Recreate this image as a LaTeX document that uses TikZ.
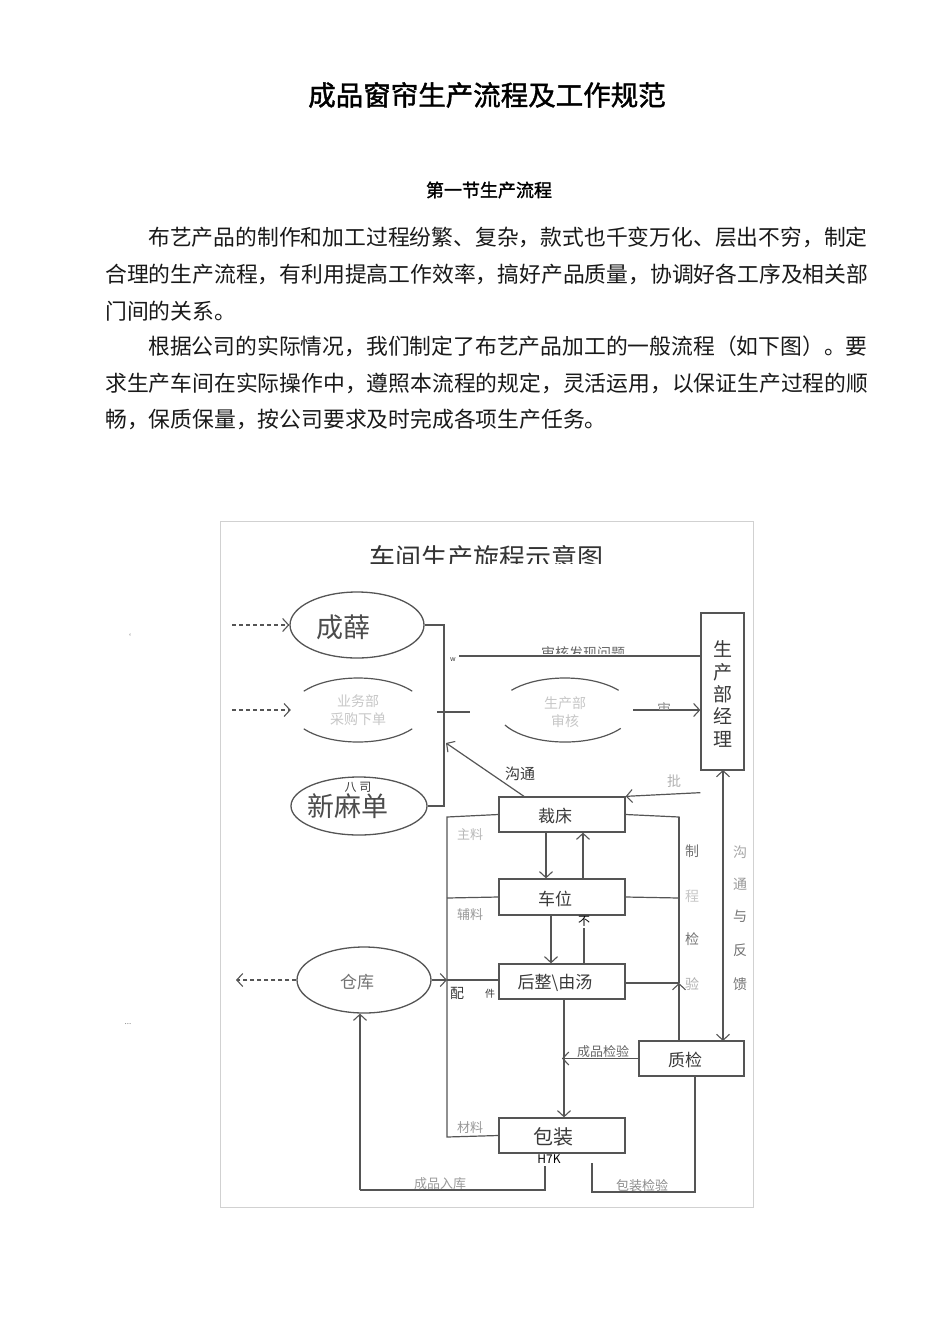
\documentclass[tikz,border=0pt]{standalone}
\usepackage{fontspec}
\setmainfont{Noto Sans CJK SC}
\newfontfamily\cjkbold{Noto Sans CJK SC}[FakeBold=1.5]
\usetikzlibrary{arrows.meta,shapes.geometric}
\definecolor{lc}{HTML}{555555}
\definecolor{tc}{HTML}{3A3A3A}
\tikzset{
  ln/.style={draw=lc,line width=1.2pt},
  arr/.style={ln,-{Straight Barb[length=6pt,width=13pt,line width=1.1pt]}},
  darr/.style={ln,dashed,dash pattern=on 4pt off 3pt,-{Straight Barb[length=6pt,width=13pt,line width=1.1pt]}},
  box/.style={draw=lc,line width=1.3pt,rectangle,inner sep=0pt},
  ell/.style={draw=lc,line width=1.3pt,ellipse,inner sep=0pt},
  ghost/.style={ellipse,inner sep=0pt},
  para/.style={anchor=west,inner sep=0pt,font=\fontsize{21.8}{21.8}\selectfont,text=black!90},
  lab/.style={inner sep=0pt,text=tc},
  faint/.style={inner sep=0pt,text=black!28},
}
\begin{document}
\begin{tikzpicture}[x=1pt,y=-1pt]
\useasboundingbox (0,0) rectangle (950,1318);
\fill[white] (0,0) rectangle (950,1318);

% ---------- text part ----------
\node[inner sep=0pt,font=\cjkbold\fontsize{27.5}{27.5}\selectfont] (title) at (487,95) {成品窗帘生产流程及工作规范};
\node[inner sep=0pt,font=\cjkbold\fontsize{18}{18}\selectfont] (sec) at (489,190) {第一节生产流程};
\node[para] (p1) at (148,237) {布艺产品的制作和加工过程纷繁、复杂，款式也千变万化、层出不穷，制定};
\node[para] (p2) at (105,274) {合理的生产流程，有利用提高工作效率，搞好产品质量，协调好各工序及相关部};
\node[para] (p3) at (105,311) {门间的关系。};
\node[para] (p4) at (148,346) {根据公司的实际情况，我们制定了布艺产品加工的一般流程（如下图）。要};
\node[para] (p5) at (105,383) {求生产车间在实际操作中，遵照本流程的规定，灵活运用，以保证生产过程的顺};
\node[para] (p6) at (105,419) {畅，保质保量，按公司要求及时完成各项生产任务。};

\node[inner sep=0pt,text=black!50,font=\fontsize{8}{8}\selectfont] (m1) at (127,637) {`};
\node[inner sep=0pt,text=black!50,font=\fontsize{8}{8}\selectfont] (m2) at (128,1024) {...};

% ---------- diagram frame ----------
\draw[black!18,line width=1pt] (220,521) rectangle (753,1207);
\begin{scope}
  \clip (222,530) rectangle (751,563);
  \node[inner sep=0pt,text=black!80,font=\fontsize{26}{26}\selectfont] (dtitle) at (486,558) {车间生产旋程示意图};
\end{scope}

% ---------- nodes ----------
\node[ell,minimum width=134pt,minimum height=66pt] (e1) at (357,625) {};
\node[lab,font=\fontsize{27}{27}\selectfont,text=black!70] (e1t) at (343,627) {成薛};

\node[ghost,minimum width=134pt,minimum height=64pt] (e2) at (358,710) {};
\draw[ln] (e2.center) ++(36:67pt and 32pt) arc[start angle=36,end angle=144,x radius=67pt,y radius=32pt];
\draw[ln] (e2.center) ++(216:67pt and 32pt) arc[start angle=216,end angle=324,x radius=67pt,y radius=32pt];
\node[faint,align=center,font=\fontsize{14}{18}\selectfont,text=black!22] (e2t) at (358,710) {业务部\\采购下单};

\node[ell,minimum width=136pt,minimum height=58pt] (e3) at (359,806) {};
\node[lab,font=\fontsize{12}{12}\selectfont] (e3s) at (358,787) {八 司};
\node[lab,font=\fontsize{27}{27}\selectfont,text=black!70] (e3t) at (348,806) {新麻单};

\node[ghost,minimum width=136pt,minimum height=64pt] (em) at (565,710) {};
\draw[ln] (em.center) ++(38:68pt and 32pt) arc[start angle=38,end angle=142,x radius=68pt,y radius=32pt];
\draw[ln] (em.center) ++(208:68pt and 32pt) arc[start angle=208,end angle=325,x radius=68pt,y radius=32pt];
\node[faint,align=center,font=\fontsize{14}{18}\selectfont,text=black!22] (emt) at (565,712) {生产部\\审核};

\node[box,minimum width=43pt,minimum height=157pt] (mgr) at (722.5,691.5) {};
\node[lab,align=center,font=\fontsize{19}{22.4}\selectfont] (mgrt) at (722.5,694) {生\\产\\部\\经\\理};

\node[box,minimum width=126pt,minimum height=35pt] (cut) at (562,814.5) {};
\node[lab,font=\fontsize{17}{17}\selectfont] (cutt) at (555,816) {裁床};
\node[box,minimum width=126pt,minimum height=36pt] (sew) at (562,897) {};
\node[lab,font=\fontsize{17}{17}\selectfont] (sewt) at (555,899) {车位};
\node[box,minimum width=126pt,minimum height=35pt] (fin) at (562,981.5) {};
\node[lab,font=\fontsize{17}{17}\selectfont] (fint) at (555,983) {后整\textbackslash 由汤};
\node[box,minimum width=126pt,minimum height=35pt] (pack) at (562,1135.5) {};
\node[lab,font=\fontsize{20}{20}\selectfont] (packt) at (553,1137) {包装};
\node[box,minimum width=105pt,minimum height=35pt] (qc) at (691.5,1058.5) {};
\node[lab,font=\fontsize{17}{17}\selectfont] (qct) at (685,1060) {质检};

\node[ell,minimum width=134pt,minimum height=66pt] (wh) at (364,980) {};
\node[lab,font=\fontsize{17}{17}\selectfont,text=black!55] (wht) at (357,982) {仓库};

% ---------- coordinates ----------
\coordinate (in1) at (232,625);
\coordinate (in2) at (232,710);
\coordinate (out3) at (236,980);
\coordinate (b1) at (444,625);
\coordinate (b2) at (444,806);
\coordinate (bT) at (446,743);
\coordinate (s1) at (459,656);
\coordinate (l1) at (437,712);
\coordinate (l2) at (470,712);
\coordinate (L1) at (447,817);
\coordinate (L2) at (447,898);
\coordinate (L3) at (447,980);
\coordinate (L4) at (447,1137);
\coordinate (R1) at (679,817);
\coordinate (R2) at (679,898);
\coordinate (R3) at (679,983);
\coordinate (B1) at (545,1166);
\coordinate (B2) at (545,1190);
\coordinate (B3) at (360,1190);
\coordinate (C1) at (695,1192);
\coordinate (C2) at (592,1192);
\coordinate (C3) at (592,1163);
\coordinate (N1) at (584,928);
\coordinate (Q1) at (723,770);
\coordinate (Q2) at (723,1041);

% ---------- connectors ----------
\draw[darr] (in1) -- (e1.west);
\draw[darr] (in2) -- (e2.west);
\draw[darr] (wh.west) -- (out3);

\draw[ln] (e1.east) -- (b1) -- (b2) -- (e3.east);
\draw[ln] (s1) -- (s1 -| mgr.west);
\draw[ln] (l1) -- (l2);
\draw[arr] (em.east) -- (em.east -| mgr.west);
\draw[arr] ([yshift=-22pt]mgr.south west) -- (cut.north east);
\draw[arr] ([xshift=-38pt]cut.north) -- (bT);

\draw[ln] (cut.west) -- (L1) -- (L4) -- (pack.west);
\draw[ln] (sew.west) -- (L2);
\draw[arr] (wh.east) -- (L3);
\draw[ln] (L3) -- (L3 -| fin.west);

\draw[arr] ([xshift=-16pt]cut.south) -- ([xshift=-16pt]sew.north);
\draw[arr] ([xshift=21pt]sew.north) -- ([xshift=21pt]cut.south);
\draw[arr] ([xshift=-11pt]sew.south) -- ([xshift=-11pt]fin.north);
\draw[ln] ([xshift=22pt]fin.north) -- (N1);
\draw[arr] ([xshift=2pt]fin.south) -- ([xshift=2pt]pack.north);
\draw[arr] (qc.west) -- (qc.west -| pack.north);

\draw[ln] (cut.east) -- (R1) -- (R2);
\draw[ln] (sew.east) -- (R2);
\draw[ln] (fin.east |- R3) -- (R3);
\draw[ln] (R1) -- (R3);
\draw[arr] (R3 |- qc.north) -- (R3);
\draw[ln,{Straight Barb[length=6pt,width=13pt,line width=1.1pt]}-{Straight Barb[length=6pt,width=13pt,line width=1.1pt]}] (Q1) -- (Q2);

\draw[ln] (B1) -- (B2) -- (B3);
\draw[arr] (B3) -- (wh.south -| B3);
\draw[ln] (qc.south -| C1) -- (C1) -- (C2) -- (C3);

% ---------- labels ----------
\node[lab,font=\fontsize{7}{7}\selectfont] (w) at (453,660) {w};
\begin{scope}
  \clip (455,640) rectangle (700,653);
  \node[lab,font=\fontsize{14}{14}\selectfont,text=black!60] (shl) at (583,653) {审核发现问题};
\end{scope}
\begin{scope}
  \clip (650,695) rectangle (690,709);
  \node[lab,font=\fontsize{14}{14}\selectfont,text=black!45] (shen) at (664,709) {审};
\end{scope}
\node[lab,font=\fontsize{14}{14}\selectfont,text=black!30] (pi) at (674,781) {批};
\node[lab,font=\fontsize{15}{15}\selectfont] (gt) at (520,774) {沟通};
\node[faint,font=\fontsize{13}{13}\selectfont] (zl) at (470,835) {主料};
\node[faint,font=\fontsize{13}{13}\selectfont,text=black!40] (fl) at (470,915) {辅料};
\node[lab,font=\fontsize{14}{14}\selectfont] (pei) at (457,993) {配};
\node[lab,font=\fontsize{10}{10}\selectfont] (jian) at (490,994) {件};
\node[faint,font=\fontsize{13}{13}\selectfont,text=black!40] (cl) at (470,1128) {材料};
\node[lab,font=\fontsize{12}{12}\selectfont,text=black] (bu) at (584,921) {不};
\node[lab,font=\fontsize{13}{13}\selectfont,text=black!60] (cpjy) at (603,1052) {成品检验};
\node[inner sep=1pt,fill=white,font=\fontsize{12}{12}\selectfont,text=black] (h7k) at (549,1159) {H7K};
\node[faint,font=\fontsize{13}{13}\selectfont,text=black!40] (cprk) at (440,1184) {成品入库};
\node[faint,font=\fontsize{13}{13}\selectfont,text=black!45] (bzjy) at (642,1186) {包装检验};

\node[lab,font=\fontsize{14}{14}\selectfont,text=black!55] (z1) at (692,851) {制};
\node[lab,font=\fontsize{14}{14}\selectfont,text=black!22] (z2) at (692,896) {程};
\node[lab,font=\fontsize{14}{14}\selectfont,text=black!55] (z3) at (692,939) {检};
\node[lab,font=\fontsize{14}{14}\selectfont,text=black!30] (z4) at (692,984) {验};

\node[lab,font=\fontsize{14}{14}\selectfont,text=black!35] (g1) at (740,852) {沟};
\node[lab,font=\fontsize{14}{14}\selectfont,text=black!40] (g2) at (740,884) {通};
\node[lab,font=\fontsize{14}{14}\selectfont,text=black!55] (g3) at (740,916) {与};
\node[lab,font=\fontsize{14}{14}\selectfont,text=black!55] (g4) at (740,950) {反};
\node[lab,font=\fontsize{14}{14}\selectfont,text=black!55] (g5) at (740,984) {馈};
\end{tikzpicture}
\end{document}
